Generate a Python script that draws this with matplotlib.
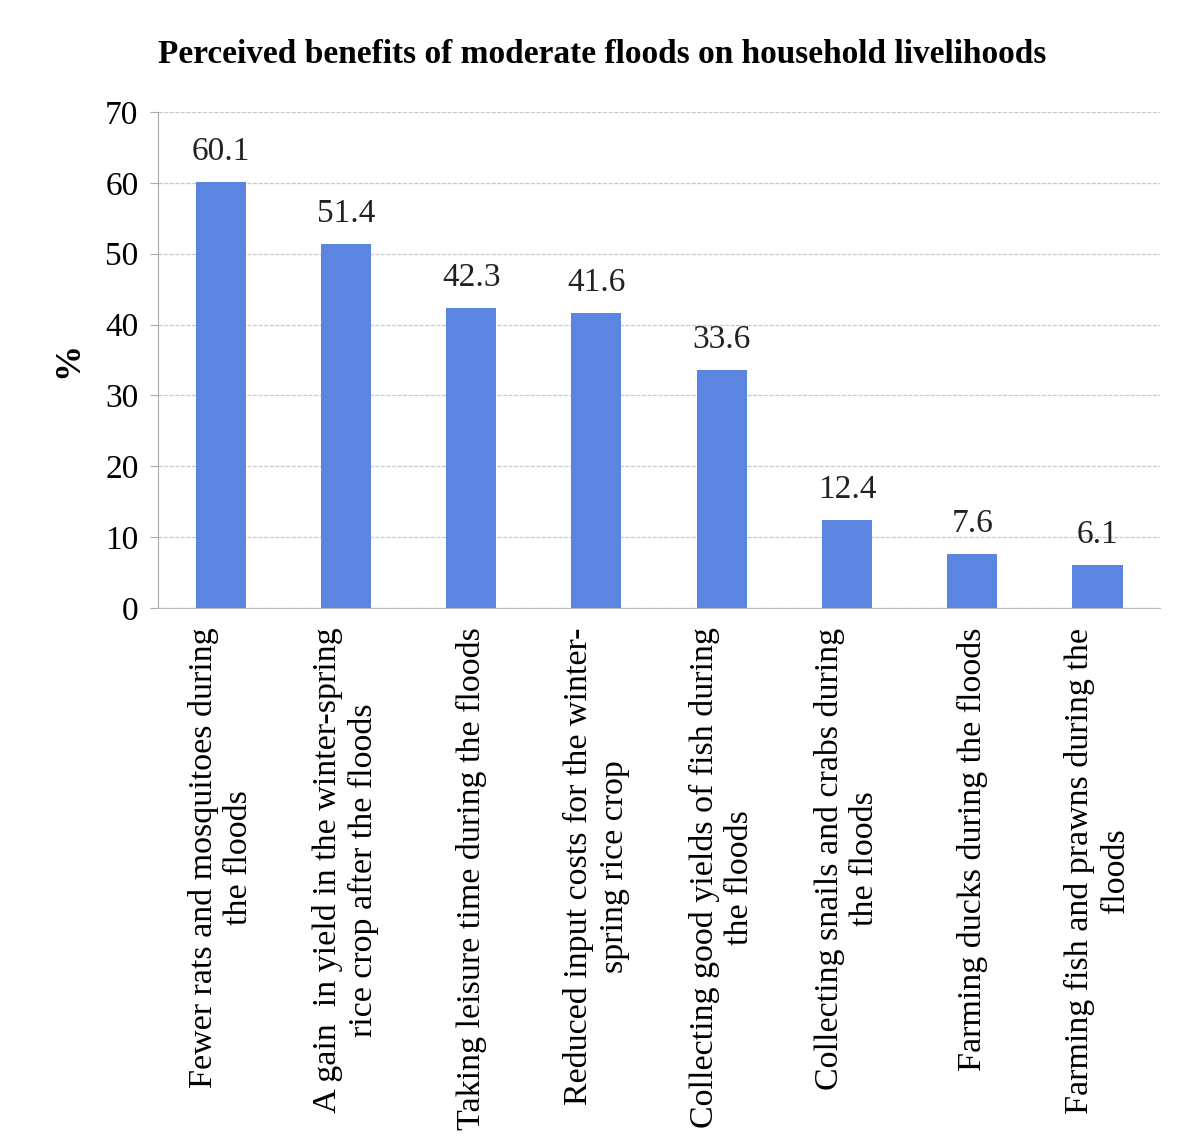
import matplotlib.pyplot as plt
import numpy as np

categories = [
    'Fewer rats and mosquitoes during\nthe floods',
    'A gain  in yield in the winter-spring\nrice crop after the floods',
    'Taking leisure time during the floods',
    'Reduced input costs for the winter-\nspring rice crop',
    'Collecting good yields of fish during\nthe floods',
    'Collecting snails and crabs during\nthe floods',
    'Farming ducks during the floods',
    'Farming fish and prawns during the\nfloods',
]
percent = [60.1, 51.4, 42.3, 41.6, 33.6, 12.4, 7.6, 6.1]
yticks = [0, 10, 20, 30, 40, 50, 60, 70]

plt.rcParams['font.family'] = ['Liberation Serif', 'DejaVu Serif']

fig = plt.figure(figsize=(11.79, 11.43), dpi=100)
ax = fig.add_axes([0.134, 0.468, 0.850, 0.434])

x = np.arange(len(categories))
bars = ax.bar(x, percent, width=0.4, color='#5b85e0', zorder=3)

for b, v in zip(bars, percent):
    ax.annotate('{:.1f}'.format(v), (b.get_x() + b.get_width() / 2, v),
                xytext=(0, 11), textcoords='offset points',
                ha='center', va='bottom', fontsize=24, color='#222222')

ax.set_xlim(-0.5, len(categories) - 0.5)
ax.set_ylim(0, 70)
ax.set_yticks(yticks)
ax.set_yticklabels([str(t) for t in yticks], fontsize=24)
ax.set_xticks(x)
ax.set_xticklabels(categories, rotation=90, fontsize=24.5, va='top', ha='center',
                   multialignment='center')
ax.tick_params(axis='x', length=0, pad=14)
ax.tick_params(axis='y', length=6, color='#aaaaaa', pad=8)

ax.grid(axis='y', color='#cccccc', linestyle=(0, (3, 1)), linewidth=1, zorder=0)
for s in ['top', 'right']:
    ax.spines[s].set_visible(False)
ax.spines['left'].set_color('#aaaaaa')
ax.spines['bottom'].set_color('#bbbbbb')
ax.spines['bottom'].set_linestyle((0, (3, 1)))

ax.set_ylabel('%', fontsize=26, fontweight='bold', labelpad=14)

fig.text(0.511, 0.952, 'Perceived benefits of moderate floods on household livelihoods',
         ha='center', va='center', fontsize=24, fontweight='bold')

plt.savefig('out.png', dpi=100)
